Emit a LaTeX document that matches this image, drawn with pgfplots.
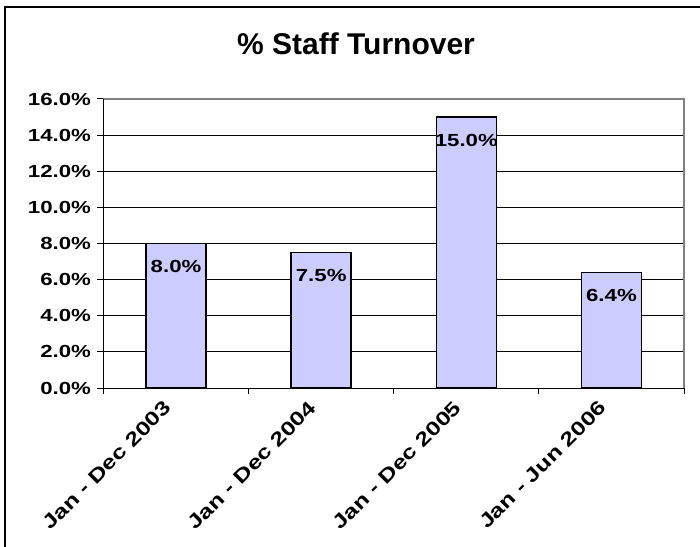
\documentclass[border=0pt]{standalone}
\usepackage{pgfplots}
\pgfplotsset{compat=1.18}
\usepackage{fontspec}
\setmainfont{Liberation Sans}
\newfontfamily\wideb[FakeStretch=1.27]{Liberation Sans Bold}
\newfontfamily\titlef{Liberation Sans Bold}
\definecolor{barfill}{HTML}{CCCCFF}
\definecolor{framegray}{HTML}{808080}
\begin{document}
\begin{tikzpicture}
\begin{axis}[
  at={(0,0)}, anchor=south west,
  scale only axis, width=580.5bp, height=289bp,
  xmin=-0.5, xmax=3.5, ymin=0, ymax=16,
  /pgf/number format/assume math mode=true,
  ytick={0,2,...,16},
  yticklabel={\pgfmathprintnumber[fixed,fixed zerofill,precision=1]{\tick}\%},
  xtick={0,1,2,3},
  xticklabels={Jan - Dec 2003, Jan - Dec 2004, Jan - Dec 2005, Jan - Jun 2006},
  minor xtick={-0.5,0.5,1.5,2.5,3.5},
  major x tick style={draw=none},
  minor x tick style={black, line width=1bp},
  major y tick style={black, line width=1bp},
  tick align=outside,
  major tick length=6bp, minor tick length=6bp,
  xtick pos=bottom, ytick pos=left,
  tick label style={font={\wideb\fontsize{17.5bp}{20bp}\selectfont}, text=black},
  yticklabel style={xshift=-3bp},
  xticklabel style={font={\wideb\fontsize{19.5bp}{22bp}\selectfont}, xshift=-6bp, yshift=-8bp, rotate=45, anchor=east},
  ymajorgrids,
  major grid style={black, line width=0.8bp},
  axis line style={draw=none},
  ybar, bar width=60bp,
  nodes near coords={\pgfmathprintnumber[fixed,fixed zerofill,precision=1]{\pgfplotspointmeta}\%},
  nodes near coords style={font={\wideb\fontsize{17.5bp}{20bp}\selectfont}, text=black, anchor=center, yshift=-23bp},
  clip=false,
]
\addplot[fill=barfill, draw=black, line width=1.5bp] coordinates {(0,8.0) (1,7.5) (2,15.0) (3,6.4)};
\draw[framegray, line width=1.8bp] (rel axis cs:0,1) -- (rel axis cs:1,1) -- (rel axis cs:1,0);
\draw[black, line width=1bp] (rel axis cs:0,1) -- (rel axis cs:0,0) -- (rel axis cs:1,0);
\end{axis}
\node[anchor=base, font={\titlef\fontsize{30bp}{34bp}\selectfont}, inner sep=0pt] at (252.5bp,333bp) {\% Staff Turnover};
\draw[black, line width=1.3bp] (-98.5bp,-170bp) -- (-98.5bp,381bp) -- (620bp,381bp);
\pgfresetboundingbox
\path[use as bounding box] (-103.5bp,-159bp) rectangle (596.5bp,388bp);
\end{tikzpicture}
\end{document}
